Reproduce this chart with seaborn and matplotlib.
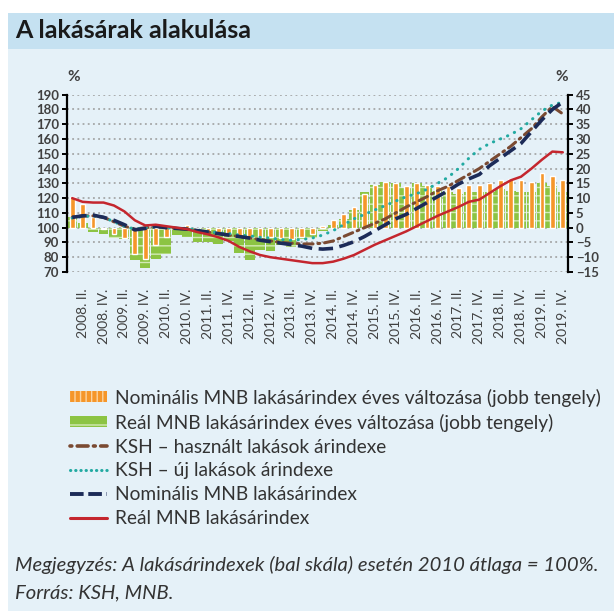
import numpy as np
import pandas as pd
import matplotlib
matplotlib.use("Agg")
import matplotlib.pyplot as plt
import matplotlib.patches as mpatches
from matplotlib.lines import Line2D
import seaborn as sns

# ── data (quarterly, 2008 Q1 – 2019 Q4) ───────────────────────────────────────
years = list(range(2008, 2020))
quarter_names = ["I.", "II.", "III.", "IV."]
quarters = [f"{y}. {q}" for y in years for q in quarter_names]

# annual change, % (right axis)
nom_yoy = [10.5, 8.0, 3.5, -0.5,
           -2.0, -3.5, -9.0, -10.5,
           -6.0, -3.0, 0.5, 1.0,
           -1.0, -1.5, -2.0, -2.5,
           -3.0, -3.5, -3.0, -3.0,
           -3.5, -4.0, -3.0, -2.0,
           0.5, 2.5, 4.5, 7.0,
           11.5, 14.5, 15.5, 15.0,
           14.0, 15.0, 14.5, 14.0,
           14.0, 13.5, 14.5, 14.5,
           15.0, 16.0, 16.5, 16.0,
           15.5, 18.5, 17.5, 16.0]
real_yoy = [3.5, 1.5, -1.5, -2.0,
            -3.5, -4.0, -11.0, -13.5,
            -10.5, -9.0, -2.5, -3.0,
            -5.0, -5.0, -5.5, -4.5,
            -8.5, -11.0, -7.5, -8.0,
            -6.0, -6.5, -4.0, -3.5,
            -1.0, 1.0, 3.0, 6.0,
            12.0, 14.5, 15.5, 15.0,
            13.5, 15.0, 14.0, 12.5,
            12.0, 11.5, 12.0, 12.0,
            12.0, 13.0, 12.5, 12.0,
            12.0, 15.0, 14.0, 12.0]

# indices, 2010 = 100 (left axis)
ksh_used = [107, 108, 108, 107,
            104, 101, 99, 100,
            100.5, 100, 99.5, 99,
            98, 97, 96, 95,
            94, 93, 92, 91,
            90, 89.5, 89, 89,
            89.5, 91, 94, 97,
            100, 103, 106, 110,
            114, 117.5, 121, 125,
            128, 132, 136, 140,
            145, 150, 155, 161,
            167, 175, 182, 177]
ksh_new = [106.5, 107.5, 108, 107,
           104, 101, 99, 100,
           100.5, 100, 99.5, 99.5,
           98.5, 97.5, 96.5, 96,
           95, 94.5, 93.5, 93,
           92, 91.5, 92, 93,
           95, 98, 102, 106,
           109, 112, 115, 118,
           121, 123, 126, 130,
           134, 140, 147, 153,
           157, 160, 163, 167,
           173, 179, 183, 185]
nom_index = [107, 108, 108.5, 107,
             105, 102, 98.5, 99.5,
             101, 100, 99.5, 99,
             98, 97, 96, 95,
             94, 93, 91.5, 90.5,
             89.5, 88.5, 87.5, 86,
             85.5, 86, 88, 90.5,
             94, 98, 102, 106,
             109, 113, 117, 121,
             125, 129.5, 133, 136,
             142, 147, 152, 157,
             165, 173, 180, 185]
real_index = [120, 117.5, 117, 117,
              115, 111, 105, 101.5,
              102, 101, 100, 99,
              97, 95.5, 93.5, 91,
              87, 84, 81.5, 80,
              79, 78, 77, 76,
              76, 77, 79, 81.5,
              85, 88.5, 91.5, 94.5,
              97.5, 101, 104.5, 108,
              111, 114, 117.5, 119,
              123.5, 128, 132, 134.5,
              140, 146, 151.5, 151]

legend_labels = ["Nominális MNB lakásárindex éves változása (jobb tengely)",
                 "Reál MNB lakásárindex éves változása (jobb tengely)",
                 "KSH – használt lakások árindexe",
                 "KSH – új lakások árindexe",
                 "Nominális MNB lakásárindex",
                 "Reál MNB lakásárindex"]

# ── palette ───────────────────────────────────────────────────────────────────
BG        = "#e5f1f8"
BAND      = "#c5e1f1"
ORANGE    = "#f5962a"
GREEN     = "#8cc443"
BROWN     = "#7a4a32"
TEAL      = "#22aaa2"
NAVY      = "#1c2b58"
RED       = "#c4262e"
TXT       = "#404040"

sns.set_theme(style="white")
plt.rcParams["font.family"] = ["Lato", "DejaVu Sans"]
plt.rcParams["hatch.linewidth"] = 1.0

df = pd.DataFrame({"quarter": quarters, "pos": np.arange(len(quarters)),
                   "nom_yoy": nom_yoy, "real_yoy": real_yoy,
                   "ksh_used": ksh_used, "ksh_new": ksh_new,
                   "nom_index": nom_index, "real_index": real_index})

fig = plt.figure(figsize=(6.14, 6.16), dpi=100)
fig.patch.set_facecolor("white")
fig.patches.append(mpatches.Rectangle((8 / 614, 1 - 611 / 616), 606 / 614, 562 / 616,
                                      transform=fig.transFigure, facecolor=BG,
                                      edgecolor="none", zorder=-5))
fig.patches.append(mpatches.Rectangle((8 / 614, 1 - 49 / 616), 606 / 614, 36 / 616,
                                      transform=fig.transFigure, facecolor=BAND,
                                      edgecolor="none", zorder=-5))
fig.text(15 / 614, 1 - 31 / 616, "A lakásárak alakulása", fontsize=18,
         fontweight="bold", color="#1a1a1a", va="center", ha="left")

ax = fig.add_axes([67 / 614, 1 - 272 / 616, 501 / 614, 177.3 / 616])
ax2 = ax.twinx()

# bars on the right axis
sns.barplot(data=df, x="quarter", y="real_yoy", ax=ax2, color=GREEN,
            width=0.95, saturation=1, order=quarters)
n = len(quarters)
for p in ax2.patches[:n]:
    p.set_hatch("--")
    p.set_edgecolor("#d3eab5")
    p.set_linewidth(0)
sns.barplot(data=df, x="quarter", y="nom_yoy", ax=ax2, color=ORANGE,
            width=0.45, saturation=1, order=quarters)

# lines on the left axis
sns.lineplot(data=df, x="pos", y="ksh_used", ax=ax, color=BROWN, lw=2.2,
             linestyle=(0, (0.6, 1.6, 3, 1.6)), dash_capstyle="round")
sns.lineplot(data=df, x="pos", y="ksh_new", ax=ax, color=TEAL, lw=2.2,
             linestyle=(0, (0.1, 2.4)), dash_capstyle="round")
sns.lineplot(data=df, x="pos", y="nom_index", ax=ax, color=NAVY, lw=2.6,
             linestyle=(0, (4, 1.8)))
sns.lineplot(data=df, x="pos", y="real_index", ax=ax, color=RED, lw=1.8)

ax.set_zorder(ax2.get_zorder() + 1)
ax.patch.set_visible(False)
ax2.patch.set_visible(False)

ax.set_xlim(-0.5, n - 0.5)
ax.set_ylim(70, 190)
ax2.set_ylim(-15, 45)
ax.set_yticks(np.arange(70, 191, 10))
ax2.set_yticks(np.arange(-15, 46, 5))
ax2.set_yticklabels([f"{v}".replace("-", "−") for v in range(-15, 46, 5)])

tick_pos = [i for i, q in enumerate(quarters) if q.endswith(" II.") or q.endswith(" IV.")]
ax.set_xticks(tick_pos)
ax.set_xticklabels([quarters[i] for i in tick_pos], rotation=90)
ax2.set_xlabel(""); ax2.set_ylabel("")
ax.set_xlabel(""); ax.set_ylabel("")

ax2.grid(axis="y", color="#9a9a9a", linestyle=(0, (1.2, 2.2)), linewidth=1.1)
ax2.grid(axis="x", visible=False)
ax.grid(False)
ax2.set_axisbelow(True)

for a in (ax, ax2):
    for s in a.spines.values():
        s.set_visible(False)
ax.spines["left"].set_visible(True)
ax.spines["left"].set_color("black")
ax.spines["left"].set_linewidth(1.6)
ax2.spines["right"].set_visible(True)
ax2.spines["right"].set_color("black")
ax2.spines["right"].set_linewidth(1.6)

ax.tick_params(axis="y", left=True, length=3.5, width=1.4, color="black",
               labelsize=9.5, labelcolor=TXT, pad=2)
ax2.tick_params(axis="y", right=True, length=3.5, width=1.4, color="black",
                labelsize=9.5, labelcolor=TXT, pad=2)
ax.tick_params(axis="x", bottom=False, labelsize=10, labelcolor=TXT, pad=6)
ax2.tick_params(axis="x", bottom=False)
for lab in ax.get_yticklabels() + ax2.get_yticklabels():
    lab.set_fontweight("bold")

ax.text(0.0, 1.06, "%", transform=ax.transAxes, fontsize=11, color=TXT,
        fontweight="bold", ha="left", va="bottom")
ax2.text(1.0, 1.06, "%", transform=ax2.transAxes, fontsize=11, color=TXT,
         fontweight="bold", ha="right", va="bottom")

# ── legend ────────────────────────────────────────────────────────────────────
h_nom = mpatches.Patch(facecolor=ORANGE, edgecolor="#fbd3a0", hatch="|||", linewidth=0)
h_real = mpatches.Patch(facecolor=GREEN, edgecolor="#d3eab5", hatch="-", linewidth=0)
h_used = Line2D([], [], color=BROWN, lw=2.6, linestyle=(0, (0.5, 1.5, 3, 1.5)),
                dash_capstyle="round")
h_new = Line2D([], [], color=TEAL, lw=2.2, linestyle=(0, (0.1, 1.6)),
               dash_capstyle="round")
h_nidx = Line2D([], [], color=NAVY, lw=2.8, linestyle=(0, (3.5, 1.2)))
h_ridx = Line2D([], [], color=RED, lw=2.2)
leg = fig.legend([h_nom, h_real, h_used, h_new, h_nidx, h_ridx], legend_labels,
                 loc="upper left", bbox_to_anchor=(62 / 614, 1 - 381 / 616),
                 frameon=False, fontsize=13.8, handlelength=1.95, handleheight=0.5,
                 handletextpad=0.4, labelspacing=0.36, borderaxespad=0)
for t in leg.get_texts():
    t.set_color("#333333")

fig.text(15 / 614, 1 - 565 / 616,
         "Megjegyzés: A lakásárindexek (bal skála) esetén 2010 átlaga = 100%.",
         fontsize=14.6, style="italic", color="#333333", va="center", ha="left")
fig.text(15 / 614, 1 - 593 / 616, "Forrás: KSH, MNB.",
         fontsize=14.6, style="italic", color="#333333", va="center", ha="left")

plt.savefig("out.png", dpi=100)
plt.close()
